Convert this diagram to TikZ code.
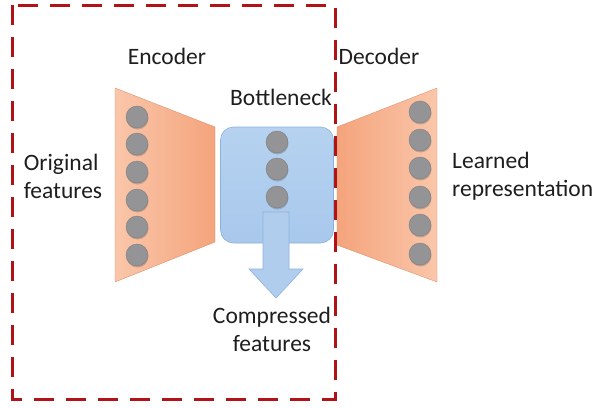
\documentclass[tikz,border=0pt]{standalone}
\usepackage{fontspec}
\setmainfont{Carlito}
\usetikzlibrary{shadows}
\definecolor{dashred}{RGB}{176,18,22}
\definecolor{orgL}{RGB}{250,198,170}
\definecolor{orgD}{RGB}{244,164,124}
\definecolor{blueF}{RGB}{168,200,236}
\definecolor{blueT}{RGB}{182,210,240}
\definecolor{blueE}{RGB}{140,178,220}
\definecolor{ballC}{RGB}{148,148,150}
\definecolor{txt}{RGB}{30,30,30}
\begin{document}
\begin{tikzpicture}[x=1pt,y=-1pt,
  lbl/.style={font=\fontsize{23.5}{28}\selectfont, text=txt, inner sep=0pt, align=center},
  ball/.style={circle, minimum size=22pt, inner sep=0pt, fill=ballC, draw=ballC!85!black, line width=0.4pt,
     drop shadow={shadow xshift=0.5pt, shadow yshift=-1.5pt, opacity=0.35, fill=black!60}},
  enc/.style={left color=orgL, right color=orgD, draw=orgD!90!black, line width=0.4pt},
  dec/.style={left color=orgD, right color=orgL, draw=orgD!90!black, line width=0.4pt},
  bbox/.style={rounded corners=13pt, top color=blueT, bottom color=blueF, draw=blueE, line width=0.6pt},
  barrow/.style={fill=blueF!90!white, draw=blueE, line width=0.6pt},
  frame/.style={draw=dashred, line width=3pt, dash pattern=on 20pt off 12pt}
]
\useasboundingbox (0,0) rectangle (599,407);
\fill[white] (0,0) rectangle (599,407);

% encoder
\coordinate (e1) at (115,88);
\coordinate (e2) at (215,127);
\coordinate (e3) at (215,242);
\coordinate (e4) at (115,282);
\path[enc] (e1) -- (e2) -- (e3) -- (e4) -- cycle;
\foreach \i/\y in {1/117,2/144,3/172,4/200,5/227,6/255}
  \node[ball] (eb\i) at (137,\y) {};

% decoder
\coordinate (d1) at (337,127);
\coordinate (d2) at (437,88);
\coordinate (d3) at (437,282);
\coordinate (d4) at (337,245);
\path[dec] (d1) -- (d2) -- (d3) -- (d4) -- cycle;
\foreach \i/\y in {1/112,2/140,3/168,4/197,5/225,6/254}
  \node[ball] (db\i) at (420,\y) {};

% bottleneck
\node[bbox, minimum width=113pt, minimum height=116pt, inner sep=0pt] (bn) at (277,185) {};
\foreach \i/\y in {1/142,2/169,3/197}
  \node[ball] (bb\i) at (277,\y) {};
\coordinate (a0) at (263,212);
\path[barrow] (a0) -- (289,212) -- (289,269) -- (303,269) -- (276,298) -- (249,269) -- (263,269) -- cycle;

% labels
\node[lbl] (lenc) at (167,56) {Encoder};
\node[lbl] (ldec) at (379,56) {Decoder};
\node[lbl] (lbn) at (281,97) {Bottleneck};
\node[lbl, align=left] (lorig) at (63,176) {Original\\features};
\node[lbl, align=left, anchor=west] (llearn) at (452,176) {Learned\\representation};
\node[lbl] (lcomp) at (272,329) {Compressed\\features};

% frame
\draw[frame] (12,5) rectangle (335,399);
\end{tikzpicture}
\end{document}
